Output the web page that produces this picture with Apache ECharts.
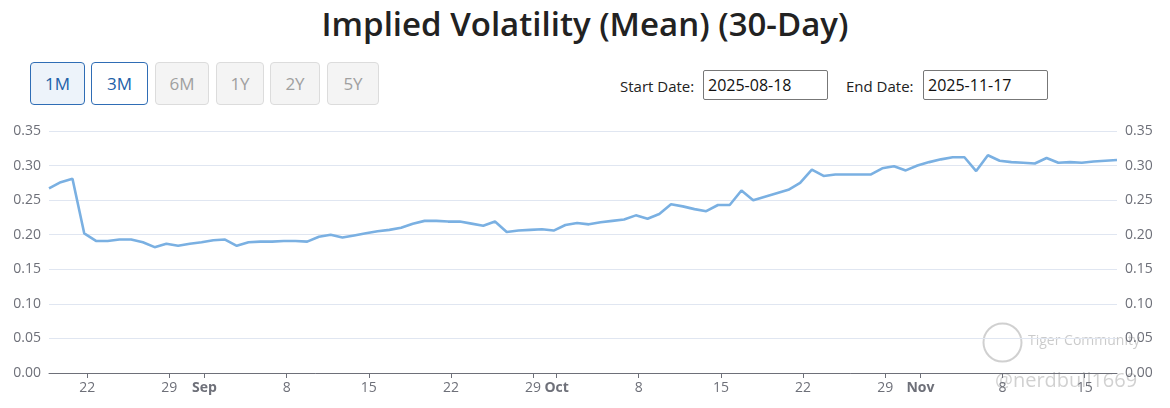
<!DOCTYPE html>
<html>
<head>
<meta charset="utf-8">
<script src="https://cdn.jsdelivr.net/npm/echarts@6/dist/echarts.min.js"></script>
<style>
  html, body { margin: 0; padding: 0; background: #fff; width: 1170px; height: 408px; overflow: hidden; font-family: "Open Sans", "Noto Sans", sans-serif; }
  #title { position: absolute; left: 0; top: 1px; width: 1170px; text-align: center; font-size: 33px; font-weight: 600; color: #222; line-height: 46px; }
  .btn { position: absolute; top: 62px; height: 43px; box-sizing: border-box; border-radius: 4px; font-size: 17px; line-height: 41px; text-align: center; }
  .on { border: 1px solid #2f6db5; color: #2260a8; background: #fff; }
  .sel { background: #edf3fa; }
  .off { border: 1px solid #dcdcdc; color: #a0a0a0; background: #f4f4f4; }
  .lbl { position: absolute; top: 74px; font-size: 15px; color: #222; line-height: 24px; }
  .inp { position: absolute; top: 70px; height: 30px; width: 125px; box-sizing: border-box; border: 1px solid #777; border-radius: 2px; font-size: 16px; line-height: 28px; padding-left: 4px; color: #111; }
  #chart { position: absolute; left: 0; top: 115px; width: 1170px; height: 293px; }
</style>
</head>
<body>
<div id="title">Implied Volatility (Mean) (30-Day)</div>
<div class="btn on sel" style="left:30px;width:55px;">1M</div>
<div class="btn on" style="left:91px;width:57px;">3M</div>
<div class="btn off" style="left:155px;width:54px;">6M</div>
<div class="btn off" style="left:216px;width:48px;">1Y</div>
<div class="btn off" style="left:270px;width:50px;">2Y</div>
<div class="btn off" style="left:327px;width:52px;">5Y</div>
<div class="lbl" style="left:620px;">Start Date:</div>
<div class="inp" style="left:703px;">2025-08-18</div>
<div class="lbl" style="left:846px;">End Date:</div>
<div class="inp" style="left:923px;">2025-11-17</div>
<div id="chart"></div>
<script>
// Daily dates from start to end
const startDate = "2025-08-18";
const endDate = "2025-11-17";
const values = [
  0.267, 0.276, 0.281, 0.202, 0.191, 0.191, 0.193, 0.193, 0.189, 0.182,
  0.187, 0.184, 0.187, 0.189, 0.192, 0.193, 0.184, 0.189, 0.190, 0.190,
  0.191, 0.191, 0.190, 0.197, 0.200, 0.196, 0.199, 0.202, 0.205, 0.207,
  0.210, 0.216, 0.220, 0.220, 0.219, 0.219, 0.216, 0.213, 0.219, 0.204,
  0.206, 0.207, 0.208, 0.206, 0.214, 0.217, 0.215, 0.218, 0.220, 0.222,
  0.228, 0.223, 0.230, 0.244, 0.241, 0.237, 0.234, 0.243, 0.243, 0.264,
  0.250, 0.255, 0.260, 0.265, 0.275, 0.294, 0.285, 0.287, 0.287, 0.287,
  0.287, 0.296, 0.299, 0.293, 0.300, 0.305, 0.309, 0.312, 0.312, 0.292,
  0.315, 0.307, 0.305, 0.304, 0.303, 0.311, 0.304, 0.305, 0.304, 0.306,
  0.307, 0.308
];
const yTicks = ["0.00","0.05","0.10","0.15","0.20","0.25","0.30","0.35"];

// build dates (one per calendar day); observation time late in the day
const dates = [];
{
  const d0 = new Date(startDate + "T18:00:00");
  for (let i = 0; i < values.length; i++) {
    dates.push(new Date(d0.getTime() + i * 86400000));
  }
}
const seriesData = dates.map((d, i) => [d.getTime(), values[i]]);

const chart = echarts.init(document.getElementById('chart'));
const yAxisBase = {
  type: 'value', min: 0, max: 0.35, interval: 0.05,
  axisLine: { show: false }, axisTick: { show: false },
  axisLabel: { color: '#6e7079', fontSize: 14, fontFamily: 'Open Sans', formatter: v => yTicks[Math.round(v / 0.05)] }
};
chart.setOption({
  animation: false,
  textStyle: { fontFamily: 'Open Sans' },
  grid: { left: 49, right: 53, top: 16, bottom: 35 },
  xAxis: {
    type: 'time', min: 'dataMin', max: 'dataMax', splitNumber: 12,
    axisLine: { lineStyle: { color: '#6e7079' } },
    axisTick: { lineStyle: { color: '#6e7079' } },
    splitLine: { show: false },
    axisLabel: {
      color: '#6e7079', fontSize: 14, fontFamily: 'Open Sans',
      formatter: { month: '{monthStyle|{MMM}}', day: '{d}' },
      rich: { monthStyle: { fontWeight: 'bold', color: '#6e7079', fontSize: 14, fontFamily: 'Open Sans' } }
    }
  },
  yAxis: [
    Object.assign({}, yAxisBase, { position: 'left', splitLine: { lineStyle: { color: '#e0e6f1' } } }),
    Object.assign({}, yAxisBase, { position: 'right', splitLine: { show: false } })
  ],
  series: [{
    type: 'line', data: seriesData, showSymbol: false, yAxisIndex: 0,
    lineStyle: { color: '#7ab0e2', width: 2.6 }, itemStyle: { color: '#7ab0e2' }
  }],
  graphic: [
    { type: 'circle', left: 981, top: 206, shape: { r: 19 }, style: { stroke: 'rgba(150,150,150,0.45)', fill: 'none', lineWidth: 2 } },
    { type: 'text', left: 1028, top: 219, style: { text: 'Tiger Community', fill: 'rgba(140,140,140,0.45)', font: '14px "Open Sans"' } },
    { type: 'text', left: 995, top: 256, style: { text: '@nerdbull1669', fill: 'rgba(140,140,140,0.4)', font: '20px "Open Sans"' } }
  ]
});
</script>
</body>
</html>
